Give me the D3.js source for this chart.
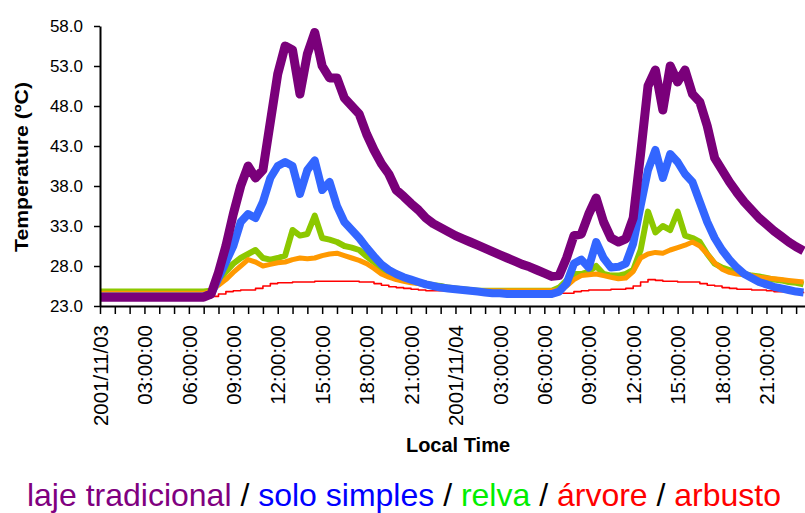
<!DOCTYPE html>
<html>
<head>
<meta charset="utf-8">
<script src="https://cdn.jsdelivr.net/npm/d3@7"></script>
<style>
  body { margin: 0; background: #fff; }
  svg { display: block; font-family: "Liberation Sans", Arial, sans-serif; }
</style>
</head>
<body>
<svg id="chart" width="805" height="513"></svg>
<script>
// half-hour readings, 12 per row = 6 hours per row
const hours = d3.range(0, 48, 0.5);

const lajeTradicional = [
  24.1, 24.1, 24.1, 24.1, 24.1, 24.1, 24.1, 24.1, 24.1, 24.1, 24.1, 24.1,
  24.1, 24.1, 24.1, 24.5, 27.2, 30.5, 34.5, 38.0, 40.5, 39.0, 40.0, 46.0,
  52.0, 55.5, 55.0, 49.5, 54.5, 57.2, 53.0, 51.5, 51.5, 49.0, 48.0, 47.0,
  44.5, 42.5, 40.8, 39.5, 37.5, 36.7, 35.8, 35.0, 34.0, 33.3, 32.8, 32.3,
  31.8, 31.4, 31.0, 30.6, 30.2, 29.8, 29.4, 29.0, 28.6, 28.2, 27.9, 27.5,
  27.1, 26.7, 26.8, 29.0, 31.8, 32.0, 34.5, 36.5, 33.5, 31.5, 31.0, 31.4,
  34.0, 42.0, 50.5, 52.5, 47.5, 53.0, 51.0, 52.5, 49.5, 48.5, 45.5, 41.5,
  40.0, 38.5, 37.2, 36.0, 35.0, 34.0, 33.2, 32.4, 31.7, 31.0, 30.4, 29.9
];

const soloSimples = [
  24.2, 24.2, 24.2, 24.2, 24.2, 24.2, 24.2, 24.2, 24.2, 24.2, 24.2, 24.2,
  24.2, 24.2, 24.2, 24.5, 26.5, 28.5, 30.5, 33.5, 34.5, 34.0, 36.0, 39.0,
  40.5, 41.0, 40.5, 37.0, 40.0, 41.2, 37.5, 38.5, 35.5, 33.5, 32.5, 31.5,
  30.3, 29.2, 28.2, 27.5, 27.0, 26.6, 26.3, 26.0, 25.7, 25.5, 25.3, 25.2,
  25.1, 25.0, 24.9, 24.8, 24.7, 24.6, 24.6, 24.5, 24.5, 24.5, 24.5, 24.5,
  24.5, 24.5, 24.8, 25.8, 28.3, 28.8, 27.8, 31.0, 29.0, 27.8, 27.9, 28.3,
  30.8, 35.5, 40.0, 42.5, 39.0, 42.0, 41.0, 39.5, 38.5, 36.0, 33.5, 31.5,
  30.0, 28.8, 27.8, 27.0, 26.5, 26.0, 25.7, 25.4, 25.2, 25.0, 24.8, 24.7
];

const relva = [
  24.8, 24.8, 24.8, 24.8, 24.8, 24.8, 24.8, 24.8, 24.8, 24.8, 24.8, 24.8,
  24.8, 24.8, 24.8, 24.9, 26.0, 27.3, 28.3, 29.0, 29.5, 30.0, 29.0, 28.8,
  29.0, 29.3, 32.5, 31.8, 32.0, 34.3, 31.5, 31.3, 31.0, 30.5, 30.3, 30.0,
  29.2, 28.5, 27.6, 27.0, 26.6, 26.3, 26.1, 25.9, 25.8, 25.6, 25.5, 25.3,
  25.2, 25.1, 25.0, 24.9, 24.9, 24.9, 24.9, 24.9, 24.9, 24.9, 24.9, 24.9,
  24.9, 24.9, 25.3, 26.2, 27.0, 27.0, 27.3, 28.0, 27.0, 26.8, 26.8, 27.0,
  27.5, 30.0, 34.8, 32.2, 33.0, 32.5, 34.8, 31.8, 31.5, 31.0, 29.5, 28.3,
  27.8, 27.5, 27.2, 27.0, 26.8, 26.7, 26.5, 26.3, 26.2, 26.0, 25.9, 25.7
];

const arvore = [
  24.6, 24.6, 24.6, 24.6, 24.6, 24.6, 24.6, 24.6, 24.6, 24.6, 24.6, 24.6,
  24.6, 24.6, 24.6, 24.8, 25.6, 26.3, 27.2, 28.0, 28.8, 28.5, 28.0, 28.2,
  28.4, 28.5, 28.8, 29.0, 28.9, 29.0, 29.3, 29.5, 29.6, 29.3, 29.0, 28.7,
  28.3, 27.7, 27.0, 26.6, 26.3, 26.1, 25.9, 25.8, 25.6, 25.5, 25.4, 25.3,
  25.2, 25.1, 25.0, 24.9, 24.9, 24.9, 24.9, 24.9, 24.9, 24.9, 24.9, 24.9,
  24.9, 24.9, 25.0, 25.5, 26.3, 26.8, 26.9, 27.0, 26.8, 26.6, 26.4, 26.5,
  27.3, 29.0, 29.5, 29.7, 29.6, 30.0, 30.3, 30.6, 31.0, 30.5, 29.5, 28.4,
  27.6, 27.2, 27.0, 26.9, 26.8, 26.6, 26.5, 26.4, 26.3, 26.2, 26.1, 26.0
];

const arbusto = [
  24.0, 24.0, 24.0, 24.0, 24.0, 24.0, 24.0, 24.0, 24.0, 24.0, 24.0, 24.0,
  24.0, 24.0, 24.0, 24.2, 24.5, 24.8, 24.9, 25.0, 25.0, 25.2, 25.5, 25.8,
  25.9, 25.9, 26.0, 26.0, 26.0, 26.1, 26.1, 26.1, 26.1, 26.1, 26.1, 26.0,
  26.0, 25.8, 25.6, 25.4, 25.3, 25.2, 25.1, 25.0, 24.9, 24.9, 24.9, 24.9,
  24.8, 24.8, 24.8, 24.8, 24.8, 24.8, 24.7, 24.7, 24.7, 24.7, 24.7, 24.7,
  24.6, 24.6, 24.6, 24.6, 24.8, 24.9, 25.0, 25.0, 25.0, 25.1, 25.1, 25.2,
  25.5, 26.0, 26.3, 26.2, 26.1, 26.1, 26.0, 26.0, 26.0, 25.8, 25.6, 25.5,
  25.3, 25.2, 25.1, 25.1, 25.0, 25.0, 24.9, 24.8, 24.8, 24.7, 24.7, 24.6
];

const yTicks = [23, 28, 33, 38, 43, 48, 53, 58];
const labelHours = [0, 3, 6, 9, 12, 15, 18, 21, 24, 27, 30, 33, 36, 39, 42, 45];
const labelTexts = ["2001/11/03", "03:00:00", "06:00:00", "09:00:00", "12:00:00", "15:00:00",
  "18:00:00", "21:00:00", "2001/11/04", "03:00:00", "06:00:00", "09:00:00",
  "12:00:00", "15:00:00", "18:00:00", "21:00:00"];

const legendLabels = ["laje tradicional", " / ", "solo simples", " / ", "relva", " / ", "árvore", " / ", "arbusto"];
const legendColors = ["#800080", "#000", "#0000ff", "#000", "#00ee00", "#000", "#ff0000", "#000", "#ff0000"];

// drawing order: bottom first
const series = [
  { values: relva, color: "#8cc800", width: 6 },
  { values: arvore, color: "#ff9900", width: 5 },
  { values: arbusto, color: "#ff0000", width: 1.6, step: true },
  { values: soloSimples, color: "#3366ff", width: 8 },
  { values: lajeTradicional, color: "#7a007a", width: 9 }
];

const svg = d3.select("#chart");

const x = d3.scaleLinear().domain([0, 47.6]).range([100, 805]);
const y = d3.scaleLinear().domain([23, 58]).range([306, 26]);

svg.append("clipPath").attr("id", "plot")
  .append("rect").attr("x", 101).attr("y", 0).attr("width", 704).attr("height", 305);

const g = svg.append("g").attr("clip-path", "url(#plot)");

series.forEach(s => {
  const line = d3.line()
    .x((d, i) => x(hours[i]))
    .y(d => y(d))
    .curve(s.step ? d3.curveStepAfter : d3.curveLinear);
  g.append("path")
    .datum(s.values)
    .attr("fill", "none")
    .attr("stroke", s.color)
    .attr("stroke-width", s.width)
    .attr("stroke-linejoin", "round")
    .attr("d", line);
});

// y axis
const yAxis = svg.append("g")
  .attr("transform", "translate(100,0)")
  .call(d3.axisLeft(y).tickValues(yTicks).tickFormat(d3.format(".1f")).tickSize(6).tickSizeOuter(0).tickPadding(11));
yAxis.select(".domain").attr("stroke-width", 2);
yAxis.selectAll(".tick line").attr("stroke-width", 1.5);
yAxis.selectAll("text").attr("font-size", 17).attr("fill", "#000")
  .attr("font-family", "'Liberation Sans', Arial, sans-serif");

// x axis
const labelFor = h => {
  const k = labelHours.indexOf(h);
  return k >= 0 ? labelTexts[k] : "";
};
const xAxis = svg.append("g")
  .attr("transform", "translate(0,306)")
  .call(d3.axisBottom(x).tickValues(d3.range(0, 48, 1)).tickFormat(labelFor).tickSize(8).tickSizeOuter(0));
xAxis.select(".domain").attr("stroke-width", 2);
xAxis.selectAll(".tick line").attr("stroke-width", 1.5);
xAxis.selectAll("text")
  .attr("font-size", 20.5)
  .attr("fill", "#000")
  .attr("font-family", "'Liberation Sans', Arial, sans-serif")
  .attr("text-anchor", "end")
  .attr("transform", "rotate(-90)")
  .attr("x", -19)
  .attr("y", 0)
  .attr("dy", "0.35em");

// axis titles
svg.append("text")
  .attr("transform", "translate(28,167) rotate(-90)")
  .attr("text-anchor", "middle")
  .attr("font-size", 19)
  .attr("font-weight", "bold")
  .attr("textLength", 170)
  .attr("lengthAdjust", "spacingAndGlyphs")
  .text("Temperature (ºC)");

svg.append("text")
  .attr("x", 458).attr("y", 452)
  .attr("text-anchor", "middle")
  .attr("font-size", 20)
  .attr("font-weight", "bold")
  .text("Local Time");

// legend line
const legend = svg.append("text")
  .attr("x", 404).attr("y", 506)
  .attr("text-anchor", "middle")
  .attr("font-size", 32)
  .attr("xml:space", "preserve");
legend.selectAll("tspan")
  .data(legendLabels)
  .join("tspan")
  .attr("fill", (d, i) => legendColors[i])
  .text(d => d);
</script>
</body>
</html>
